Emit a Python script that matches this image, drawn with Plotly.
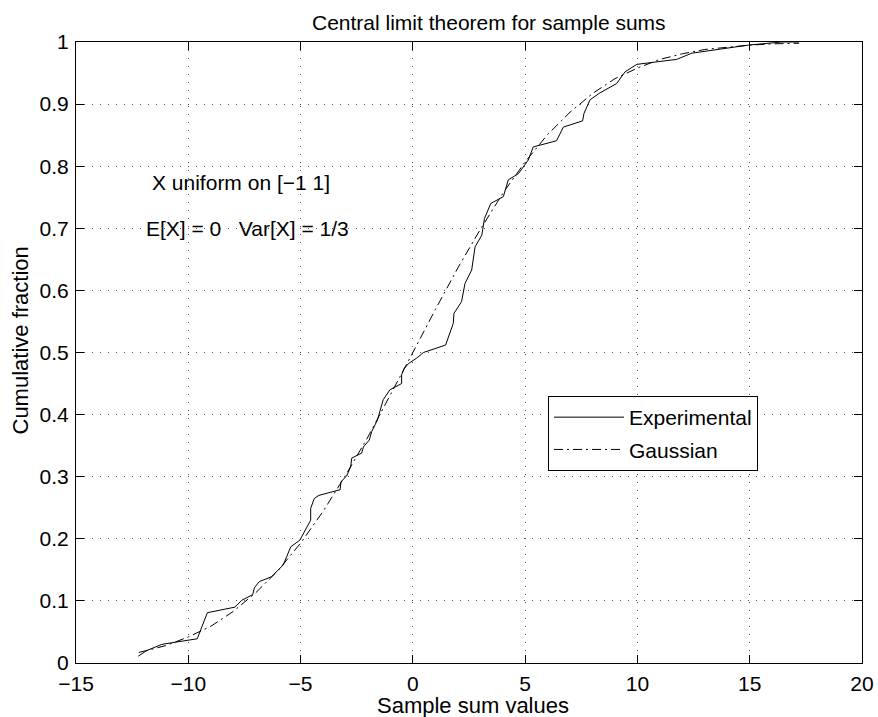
import plotly.graph_objects as go

exp_x = [-12.23, -11.85, -11.18, -10.52, -9.6, -9.15, -7.92, -7.62, -7.13, -7.06,
         -6.84, -6.29, -5.77, -5.62, -5.44, -5.03, -4.8, -4.55, -4.55, -4.39,
         -4.18, -3.24, -3.2, -2.95, -2.77, -2.72, -2.28, -2.2, -1.94, -1.83,
         -1.58, -1.46, -1.32, -1.02, -0.5, -0.5, -0.39, -0.2, 0.17, 0.47,
         1.46, 1.8, 1.83, 2.17, 2.24, 2.32, 2.62, 2.77, 3.07, 3.19,
         3.47, 4.03, 4.25, 4.7, 5.14, 5.36, 6.4, 6.7, 7.56, 7.62,
         7.89, 8.33, 9.07, 9.45, 9.97, 11.75, 12.42, 14.94, 16.42, 17.2]
exp_y = [0.011, 0.02, 0.03, 0.034, 0.039, 0.081, 0.09, 0.101, 0.11, 0.121,
         0.131, 0.139, 0.158, 0.171, 0.187, 0.198, 0.214, 0.23, 0.249, 0.265,
         0.27, 0.279, 0.292, 0.301, 0.316, 0.33, 0.338, 0.348, 0.359, 0.373,
         0.391, 0.407, 0.424, 0.44, 0.45, 0.464, 0.474, 0.482, 0.491, 0.5,
         0.512, 0.547, 0.563, 0.582, 0.598, 0.611, 0.633, 0.67, 0.689, 0.716,
         0.74, 0.751, 0.778, 0.788, 0.81, 0.831, 0.841, 0.863, 0.873, 0.885,
         0.907, 0.918, 0.933, 0.952, 0.964, 0.972, 0.982, 0.995, 1.0, 1.0]

# Gaussian reference curve
gau_x = [-12.2, -11, -10, -9, -8, -7, -6, -5, -4, -3, -2, -1, 0, 1, 2, 3, 4, 5,
         6, 7, 8, 9, 10, 11, 12, 13, 14, 15, 16, 17.2]
gau_y = [0.017, 0.028, 0.042, 0.059, 0.083, 0.113, 0.149, 0.193, 0.244, 0.302,
         0.364, 0.431, 0.5, 0.569, 0.636, 0.698, 0.756, 0.807, 0.851, 0.887,
         0.917, 0.941, 0.958, 0.972, 0.981, 0.988, 0.992, 0.995, 0.997, 0.998]

x_ticks = [-15, -10, -5, 0, 5, 10, 15, 20]
x_tick_labels = ["\u221215", "\u221210", "\u22125", "0", "5", "10", "15", "20"]
y_ticks = [0, 0.1, 0.2, 0.3, 0.4, 0.5, 0.6, 0.7, 0.8, 0.9, 1]
y_tick_labels = ["0", "0.1", "0.2", "0.3", "0.4", "0.5", "0.6", "0.7", "0.8", "0.9", "1"]

FONT = "Liberation Sans, Arial, sans-serif"
FS = 21

fig = go.Figure()
fig.add_trace(go.Scatter(x=exp_x, y=exp_y, mode="lines", name="Experimental",
                         legendgroup="a",
                         line=dict(color="black", width=1)))
fig.add_trace(go.Scatter(x=gau_x, y=gau_y, mode="lines", name="Gaussian",
                         legendgroup="b",
                         line=dict(color="black", width=1, dash="9px,4px,2px,4px")))

axis_common = dict(showline=True, linecolor="black", linewidth=1, mirror="ticks",
                   ticks="inside", ticklen=8, tickcolor="black", automargin=False,
                   showgrid=True, gridcolor="#555", griddash="1px,7px", gridwidth=1,
                   zeroline=False, tickfont=dict(family=FONT, size=FS, color="black"))

fig.update_xaxes(range=[-15, 20], tickvals=x_ticks, ticktext=x_tick_labels,
                 ticklabelstandoff=2, **axis_common)
fig.update_yaxes(range=[0, 1], tickvals=y_ticks, ticktext=y_tick_labels,
                 ticklabelstandoff=2, **axis_common)

fig.update_layout(
    width=878, height=717,
    margin=dict(l=76, r=16, t=42, b=54),
    paper_bgcolor="white", plot_bgcolor="white",
    font=dict(family=FONT, color="black", size=FS),
    showlegend=True,
    legend=dict(x=(548 - 76) / 786, y=(663 - 396) / 621, xanchor="left", yanchor="top",
                bgcolor="white", bordercolor="black", borderwidth=1,
                font=dict(family=FONT, size=FS, color="black"),
                itemwidth=70, tracegroupgap=2),
    annotations=[
        dict(text="Central limit theorem for sample sums", xref="paper", yref="paper",
             x=0.5, y=1, xshift=20, yanchor="middle", yshift=20, showarrow=False,
             font=dict(family=FONT, size=FS)),
        dict(text="Sample sum values", xref="paper", yref="paper",
             x=0.5, y=0, xshift=4, yanchor="middle", yshift=-42, showarrow=False,
             font=dict(family=FONT, size=22)),
        dict(text="Cumulative fraction", xref="paper", yref="paper",
             x=0, y=0.5, xanchor="center", xshift=-56, yshift=12, textangle=-90,
             showarrow=False, font=dict(family=FONT, size=22)),
        dict(text="X uniform on [\u22121 1]", xref="x", yref="y",
             x=-11.7, y=0.773, xanchor="left", yanchor="middle", showarrow=False,
             font=dict(family=FONT, size=FS)),
        dict(text="E[X] = 0   Var[X] = 1/3", xref="x", yref="y",
             x=-11.95, y=0.70, xanchor="left", yanchor="middle", showarrow=False,
             font=dict(family=FONT, size=FS)),
    ],
)

fig.write_html("out.html", config={"displayModeBar": False},
               post_script="document.body.style.margin='0';")
